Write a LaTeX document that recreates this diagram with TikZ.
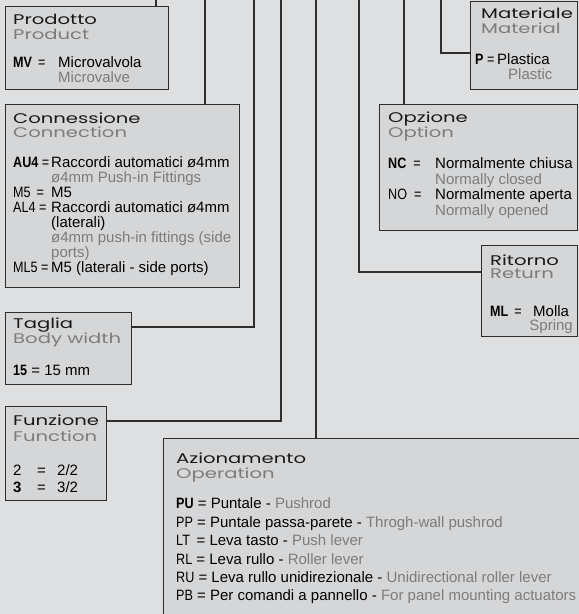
\documentclass[tikz,border=0pt]{standalone}
\usepackage{fontspec}
\setmainfont{Liberation Sans}
\newfontfamily\headfont[FakeStretch=1.4]{Poppins}
\newfontfamily\codefont[FakeStretch=0.84]{Liberation Sans}
\usepackage{tikz}
\definecolor{Paper}  {HTML}{DEDFE1}
\definecolor{BoxFill}{HTML}{D5D6D8}
\definecolor{Ink}    {HTML}{2E2E2E}
\definecolor{EnGrey} {HTML}{7C7C7C}
\tikzset{
  feed/.style={draw=Ink, line width=1.1pt},
}

\begin{document}
\begin{tikzpicture}[x=1pt, y=-1pt,
    codebox/.style={draw=Ink, fill=BoxFill, line width=1.3pt,
                    anchor=north west, inner sep=0pt},
    head/.style={font=\headfont\fontsize{14}{14}\selectfont, text=black!90,
                 anchor=base west, inner sep=0pt},
    headen/.style={head, text=EnGrey},
    txt/.style={font=\fontsize{15}{15}\selectfont, text=black,
                anchor=base west, inner sep=0pt},
    en/.style={txt, text=EnGrey},
    code/.style={txt, font=\codefont\fontsize{15}{15}\selectfont}]
  \clip (0,0) rectangle (579,614);
  \fill[Paper] (0,0) rectangle (579,614);
  % Boxes
  \node[codebox, minimum width=163pt, minimum height=83pt]  (prod) at (5,6)     {};
  \node[codebox, minimum width=234pt, minimum height=183pt] (conn) at (5,104)   {};
  \node[codebox, minimum width=126pt, minimum height=72pt]  (size) at (5,312)   {};
  \node[codebox, minimum width=101pt, minimum height=94pt]  (func) at (5,406)   {};
  \node[codebox, minimum width=430pt, minimum height=190pt] (oper) at (163,438) {};
  \node[codebox, minimum width=107pt, minimum height=88pt]  (mat)  at (470,1)   {};
  \node[codebox, minimum width=198pt, minimum height=126pt] (opt)  at (379,104) {};
  \node[codebox, minimum width=96pt,  minimum height=91pt]  (ret)  at (481,245) {};
  % Code lines coming down from the top
  \coordinate (inProd) at (156,0);
  \coordinate (inConn) at (205,0);
  \coordinate (inSize) at (254,0);
  \coordinate (inFunc) at (281,0);
  \coordinate (inOper) at (316,0);
  \coordinate (inRet)  at (359,0);
  \coordinate (inOpt)  at (404,0);
  \coordinate (inMat)  at (441,0);
  \draw[feed] (inProd) -- (inProd |- prod.north);
  \draw[feed] (inConn) -- (inConn |- conn.north);
  \draw[feed] (inSize) |- ([yshift=-15pt]size.north east);
  \draw[feed] (inFunc) |- ([yshift=-15pt]func.north east);
  \draw[feed] (inOper) -- (inOper |- oper.north);
  \draw[feed] (inRet)  |- ([yshift=-27pt]ret.north west);
  \draw[feed] (inOpt)  -- (inOpt |- opt.north);
  \draw[feed] (inMat)  |- ([yshift=-52pt]mat.north west);
  % Prodotto
  \node[head]   (prodH)  at (13,24)  {Prodotto};
  \node[headen] (prodE)  at (13,39)  {Product};
  \node[code]   (prodC)  at (13,67)  {\textbf{MV} \,=};
  \node[txt]    (prodV)  at (58,67)  {Microvalvola};
  \node[en]     (prodT)  at (58,82)  {Microvalve};
  % Connessione
  \node[head]   (connH)  at (13,123) {Connessione};
  \node[headen] (connE)  at (13,137) {Connection};
  \node[code]   (connC1) at (13,167) {\textbf{AU4} =};
  \node[txt]    (connV1) at (51,167) {Raccordi automatici ø4mm};
  \node[en]     (connT1) at (51,182) {ø4mm Push-in Fittings};
  \node[code]   (connC2) at (13,197) {M5\ \,=};
  \node[txt]    (connV2) at (51,197) {M5};
  \node[code]   (connC3) at (13,212) {AL4 =};
  \node[txt]    (connV3) at (51,212) {Raccordi automatici ø4mm};
  \node[txt]    (connV4) at (51,227) {(laterali)};
  \node[en]     (connT3) at (51,242) {ø4mm push-in fittings (side};
  \node[en]     (connT4) at (51,257) {ports)};
  \node[code]   (connC5) at (13,272) {ML5 =};
  \node[txt]    (connV5) at (51,272) {M5 (laterali - side ports)};
  % Taglia
  \node[head]   (sizeH)  at (13,328) {Taglia};
  \node[headen] (sizeE)  at (13,343) {Body width};
  \node[txt]    (sizeC)  at (13,375) {{\codefont\textbf{15}} = 15 mm};
  % Funzione
  \node[head]   (funcH)  at (13,425) {Funzione};
  \node[headen] (funcE)  at (13,441) {Function};
  \node[txt]    (funcC1) at (13,475) {2};
  \node[txt]    (funcQ1) at (37,475) {=};
  \node[txt]    (funcV1) at (57,475) {2/2};
  \node[txt]    (funcC2) at (13,492) {\textbf{3}};
  \node[txt]    (funcQ2) at (37,492) {=};
  \node[txt]    (funcV2) at (57,492) {3/2};
  % Azionamento
  \node[head]   (operH)  at (176,463) {Azionamento};
  \node[headen] (operE)  at (176,478) {Operation};
  \node[txt]    (oper1)  at (176,508) {{\codefont\textbf{PU}} = Puntale - \textcolor{EnGrey}{Pushrod}};
  \node[txt]    (oper2)  at (176,527) {{\codefont PP}\ = Puntale passa-parete - \textcolor{EnGrey}{Throgh-wall pushrod}};
  \node[txt]    (oper3)  at (176,545) {{\codefont LT}\ \,= Leva tasto - \textcolor{EnGrey}{Push lever}};
  \node[txt]    (oper4)  at (176,564) {{\codefont RL} = Leva rullo - \textcolor{EnGrey}{Roller lever}};
  \node[txt]    (oper5)  at (176,582) {{\codefont RU} = Leva rullo unidirezionale - \textcolor{EnGrey}{Unidirectional roller lever}};
  \node[txt]    (oper6)  at (176,600) {{\codefont PB} = Per comandi a pannello - \textcolor{EnGrey}{For panel mounting actuators}};
  % Materiale
  \node[head]   (matH)   at (481,18) {Materiale};
  \node[headen] (matE)   at (481,33) {Material};
  \node[code]   (matC)   at (475,64) {\textbf{P} =};
  \node[txt]    (matV)   at (497,64) {Plastica};
  \node[en]     (matT)   at (508,79) {Plastic};
  % Opzione
  \node[head]   (optH)   at (388,122) {Opzione};
  \node[headen] (optE)   at (388,137) {Option};
  \node[code]   (optC1)  at (388,168) {\textbf{NC} \ =};
  \node[txt]    (optV1)  at (435,168) {Normalmente chiusa};
  \node[en]     (optT1)  at (435,184) {Normally closed};
  \node[code]   (optC2)  at (388,199) {NO \ =};
  \node[txt]    (optV2)  at (435,199) {Normalmente aperta};
  \node[en]     (optT2)  at (435,215) {Normally opened};
  % Ritorno
  \node[head]   (retH)   at (490,265) {Ritorno};
  \node[headen] (retE)   at (490,278) {Return};
  \node[code]   (retC)   at (490,316) {\textbf{ML} \,=};
  \node[txt]    (retV)   at (533,316) {Molla};
  \node[en, anchor=base east] (retT) at (573,330) {Spring};
\end{tikzpicture}
\end{document}
